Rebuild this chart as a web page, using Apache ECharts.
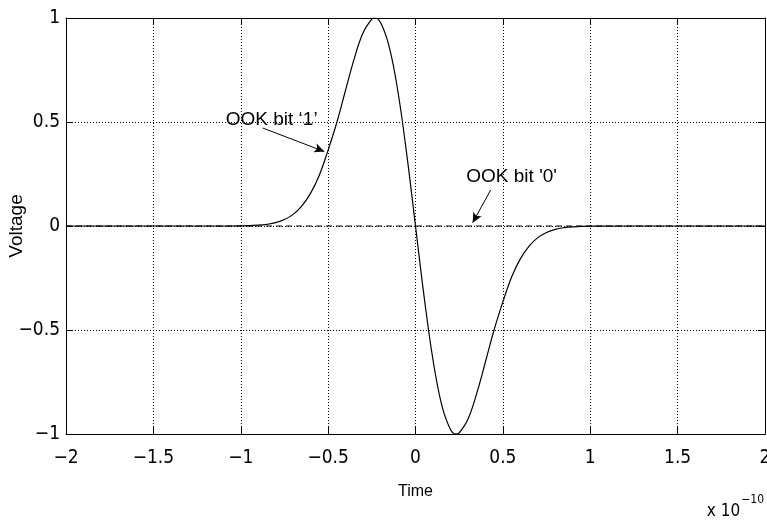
<!DOCTYPE html>
<html>
<head>
<meta charset="utf-8">
<script src="https://cdn.jsdelivr.net/npm/echarts@6/dist/echarts.min.js"></script>
<style>
html,body{margin:0;padding:0;background:#fff;}
#c{width:767px;height:520px;}
</style>
</head>
<body>
<div id="c"></div>
<script>
// time in units of 1e-10 s
var timeVals = [-2, -1.5, -1.2, -1.0, -0.9, -0.85, -0.8, -0.75, -0.7, -0.65, -0.6, -0.55, -0.5, -0.45, -0.4, -0.35, -0.3, -0.25, -0.234, -0.2, -0.15, -0.1, -0.05, 0,
                0.05, 0.1, 0.15, 0.2, 0.234, 0.25, 0.3, 0.35, 0.4, 0.45, 0.5, 0.55, 0.6, 0.65, 0.7, 0.75, 0.8, 0.85, 0.9, 1.0, 1.2, 1.5, 2];
var bit1Volts = [0, 0, 0, 0.001, 0.004, 0.008, 0.016, 0.031, 0.056, 0.097, 0.158, 0.245, 0.365, 0.499, 0.654, 0.806, 0.929, 0.995, 1.0, 0.978, 0.860, 0.643, 0.344, 0,
                 -0.344, -0.643, -0.860, -0.978, -1.0, -0.995, -0.929, -0.806, -0.654, -0.499, -0.365, -0.245, -0.158, -0.097, -0.056, -0.031, -0.016, -0.008, -0.004, -0.001, 0, 0, 0];
var bit0Times = [-2, 2];
var bit0Volts = [0, 0];
var xTicks = [-2, -1.5, -1, -0.5, 0, 0.5, 1, 1.5, 2];
var yTicks = [-1, -0.5, 0, 0.5, 1];
var labelBit1 = "OOK bit \u20181\u2019";
var labelBit0 = "OOK bit '0'";

var chart = echarts.init(document.getElementById('c'));
function fmt(v){ return String(v).replace('-', '\u2212'); }
var tickFont = {fontFamily: '"Liberation Sans Narrow", "DejaVu Sans Condensed", "Liberation Sans", sans-serif', fontSize: 19, color: '#000'};
var line1 = timeVals.map(function(t, i){ return [t, bit1Volts[i]]; });
var line0 = bit0Times.map(function(t, i){ return [t, bit0Volts[i]]; });

chart.setOption({
  animation: false,
  backgroundColor: '#fff',
  grid: {left: 66, right: 2, top: 18, bottom: 86, containLabel: false, outerBoundsMode: 'none'},
  xAxis: [{
    type: 'value', min: xTicks[0], max: xTicks[xTicks.length-1], interval: 0.5,
    position: 'bottom',
    axisLine: {onZero: false, lineStyle: {color: '#000', width: 1}},
    axisTick: {inside: true, length: 7, lineStyle: {color: '#000'}},
    axisLabel: Object.assign({margin: 15, formatter: fmt}, tickFont),
    splitLine: {show: true, lineStyle: {color: '#000', type: [1, 2], width: 1}},
    name: 'Time', nameLocation: 'middle', nameGap: 50, nameMoveOverlap: false,
    nameTextStyle: {fontFamily: 'Liberation Sans, Arial, sans-serif', fontSize: 16, color: '#000'}
  }, {
    type: 'value', min: xTicks[0], max: xTicks[xTicks.length-1], interval: 0.5,
    position: 'top',
    axisLine: {onZero: false, lineStyle: {color: '#000', width: 1}},
    axisTick: {inside: true, length: 7, lineStyle: {color: '#000'}},
    axisLabel: {show: false}, splitLine: {show: false}
  }],
  yAxis: [{
    type: 'value', min: yTicks[0], max: yTicks[yTicks.length-1], interval: 0.5,
    position: 'left',
    axisLine: {onZero: false, lineStyle: {color: '#000', width: 1}},
    axisTick: {inside: true, length: 7, lineStyle: {color: '#000'}},
    axisLabel: Object.assign({margin: 6, formatter: fmt}, tickFont),
    splitLine: {show: true, lineStyle: {color: '#000', type: [1, 2], width: 1}},
    name: 'Voltage', nameLocation: 'middle', nameGap: 40, nameRotate: 90, nameMoveOverlap: false,
    nameTextStyle: {fontFamily: 'Liberation Sans, Arial, sans-serif', fontSize: 19, color: '#000'}
  }, {
    type: 'value', min: yTicks[0], max: yTicks[yTicks.length-1], interval: 0.5,
    position: 'right',
    axisLine: {onZero: false, lineStyle: {color: '#000', width: 1}},
    axisTick: {inside: true, length: 7, lineStyle: {color: '#000'}},
    axisLabel: {show: false}, splitLine: {show: false}
  }],
  series: [{
    type: 'line', data: line0, showSymbol: false, z: 2,
    lineStyle: {color: '#000', width: 1, type: [6, 4]},
    markLine: {
      silent: true, symbol: ['none', 'arrow'], symbolSize: [7, 10],
      lineStyle: {color: '#000', width: 1, type: 'solid'},
      label: {show: false},
      data: [[{coord: [0.43, 0.173]}, {coord: [0.327, 0.016]}]]
    },
    markPoint: {
      silent: true, symbol: 'circle', symbolSize: 0,
      label: {show: true, position: 'inside', formatter: labelBit0, fontFamily: 'Liberation Sans, Arial, sans-serif', fontSize: 19, color: '#000'},
      data: [{coord: [0.55, 0.236]}]
    }
  }, {
    type: 'line', data: line1, showSymbol: false, smooth: 0.4, z: 3,
    lineStyle: {color: '#000', width: 1.2},
    markLine: {
      silent: true, symbol: ['none', 'arrow'], symbolSize: [7, 10],
      lineStyle: {color: '#000', width: 1, type: 'solid'},
      label: {show: false},
      data: [[{coord: [-0.874, 0.471]}, {coord: [-0.522, 0.358]}]]
    },
    markPoint: {
      silent: true, symbol: 'circle', symbolSize: 0,
      label: {show: true, position: 'inside', formatter: labelBit1, fontFamily: 'Liberation Sans, Arial, sans-serif', fontSize: 19, color: '#000'},
      data: [{coord: [-0.823, 0.51]}]
    }
  }],
  graphic: [{
    type: 'text', right: 3, bottom: 0,
    style: {
      text: '{b|x 10}{s|\u221210}',
      rich: {
        b: {fontFamily: '"Liberation Sans Narrow", "DejaVu Sans Condensed", sans-serif', fontSize: 17, fill: '#000', verticalAlign: 'bottom'},
        s: {fontFamily: '"Liberation Sans Narrow", "DejaVu Sans Condensed", sans-serif', fontSize: 12, fill: '#000', padding: [0, 0, 14, 1], verticalAlign: 'bottom'}
      }
    }
  }]
});
</script>
</body>
</html>
